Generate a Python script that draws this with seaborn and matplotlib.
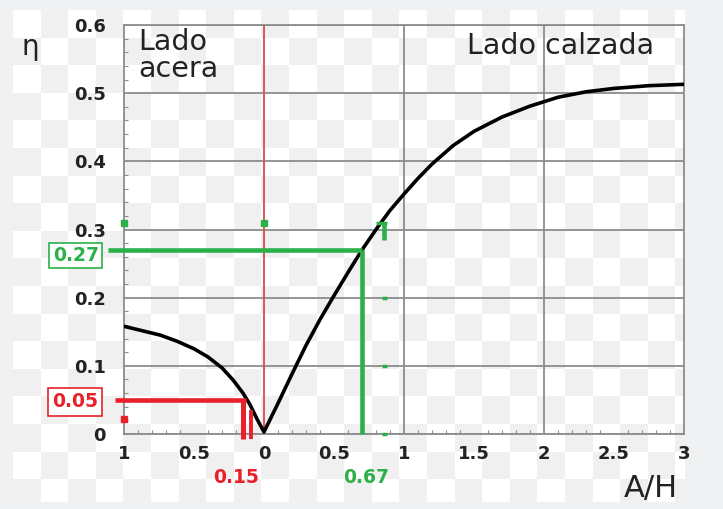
import numpy as np
import pandas as pd
import matplotlib
matplotlib.use('Agg')
import matplotlib.pyplot as plt
import seaborn as sns

# curve (A/H < 0 is the "acera" side)
ah_vals = [-1.0, -0.88, -0.74, -0.62, -0.5, -0.4, -0.3, -0.22, -0.15, -0.1,
           -0.05, 0.0,
           0.1, 0.2, 0.3, 0.4, 0.5, 0.6, 0.7, 0.8, 0.9, 1.0, 1.1, 1.2, 1.35,
           1.5, 1.7, 1.9, 2.1, 2.3, 2.5, 2.75, 3.0]
eta_vals = [0.158, 0.152, 0.145, 0.136, 0.125, 0.113, 0.097, 0.079, 0.06, 0.043,
            0.022, 0.003,
            0.045, 0.088, 0.13, 0.168, 0.203, 0.237, 0.27, 0.3, 0.328, 0.352, 0.375,
            0.396, 0.423, 0.444, 0.465, 0.481, 0.494, 0.502, 0.507, 0.511, 0.513]

x_ticks = [-1, -0.5, 0, 0.5, 1, 1.5, 2, 2.5, 3]
x_tick_labels = ['1', '0.5', '0', '0.5', '1', '1.5', '2', '2.5', '3']
y_ticks = [0, 0.1, 0.2, 0.3, 0.4, 0.5, 0.6]
y_tick_labels = ['0', '0.1', '0.2', '0.3', '0.4', '0.5', '0.6']

# read-off annotations
red_x, red_eta = -0.15, 0.05
red_x2, red_eta2 = -0.09, 0.035
green_x, green_eta = 0.7, 0.27
red_label_x, red_label_eta = '0.15', '0.05'
green_label_x, green_label_eta = '0.67', '0.27'
green_mark_x, green_mark_eta = 0.86, 0.31

df = pd.DataFrame({'A/H': ah_vals, 'eta': eta_vals})

sns.set_style('white')
plt.rcParams['font.family'] = ['DejaVu Sans']

RED = '#e8202a'
GREEN = '#2bb04a'
GRID = '#8c8c8c'

fig = plt.figure(figsize=(7.23, 5.09), dpi=100)
fig.patch.set_facecolor('#f0f1f3')

# checkered background
bg = fig.add_axes([13 / 723, 1 - 502 / 509, 672 / 723, 492 / 509], zorder=0)
sq = 27.6
nr, nc = 19, 25
checker = (np.add.outer(np.arange(nr), np.arange(nc)) % 2).astype(float)
bg.imshow(checker, cmap=matplotlib.colors.ListedColormap(['#ffffff', '#f0f0f0']),
          extent=[0, nc * sq, nr * sq, 0], interpolation='nearest', aspect='auto')
bg.set_xlim(0, 672)
bg.set_ylim(492, 0)
bg.axis('off')

ax = fig.add_axes([124 / 723, 1 - 434 / 509, 560 / 723, 409 / 509], zorder=1)
ax.patch.set_alpha(0)

sns.lineplot(data=df, x='A/H', y='eta', color='black', linewidth=2.6,
             sort=True, ax=ax, zorder=5)

ax.set_xlim(-1, 3)
ax.set_ylim(0, 0.6)
ax.set_xlabel('')
ax.set_ylabel('')

ax.set_xticks(x_ticks)
ax.set_xticklabels(x_tick_labels)
ax.set_yticks(y_ticks)
ax.set_yticklabels(y_tick_labels)
ax.set_xticks(np.arange(-1, 3.01, 0.1), minor=True)
ax.set_yticks(np.arange(0, 0.601, 0.02), minor=True)

ax.tick_params(axis='x', which='major', direction='inout', length=12, width=1.3,
               color=GRID, labelsize=13, labelcolor='#222222', pad=2)
ax.tick_params(axis='y', which='major', direction='out', length=10, width=1.3,
               color=GRID, labelsize=13, labelcolor='#222222', pad=3)
ax.tick_params(which='minor', direction='in', length=3, width=0.8, color=GRID)
ax.tick_params(axis='y', which='minor', left=True)
ax.tick_params(axis='x', which='minor', bottom=True)
for lab in ax.get_xticklabels() + ax.get_yticklabels():
    lab.set_fontweight('bold')

ax.yaxis.grid(True, color=GRID, linewidth=1.3)
for gx in [1, 2]:
    ax.axvline(gx, color=GRID, linewidth=1.3, zorder=1)
ax.axvline(0, color='#e05555', linewidth=1.4, zorder=2)
for side in ['left', 'bottom', 'right', 'top']:
    ax.spines[side].set_color(GRID)
    ax.spines[side].set_linewidth(1.3)
    ax.spines[side].set_visible(True)

# red read-off (acera side)
ax.plot([-1.065, red_x + 0.02], [red_eta, red_eta], color=RED, linewidth=3.3,
        clip_on=False, zorder=6, solid_capstyle='butt')
ax.plot([red_x, red_x], [red_eta, -0.008], color=RED, linewidth=3.6,
        clip_on=False, zorder=6, solid_capstyle='butt')
ax.plot([red_x2, red_x2], [red_eta2, -0.008], color=RED, linewidth=2.8,
        clip_on=False, zorder=6, solid_capstyle='butt')
ax.plot([-1.0], [0.022], marker='s', markersize=4, color=RED,
        clip_on=False, zorder=6)

# green read-off (calzada side)
ax.plot([-1.115, green_x], [green_eta, green_eta], color=GREEN, linewidth=3.3,
        clip_on=False, zorder=6, solid_capstyle='butt')
ax.plot([green_x, green_x], [green_eta, 0], color=GREEN, linewidth=3.3,
        clip_on=False, zorder=6, solid_capstyle='butt')
ax.plot([green_mark_x, green_mark_x], [green_mark_eta, 0.285], color=GREEN,
        linewidth=3.3, zorder=6, solid_capstyle='butt')
ax.plot([green_mark_x - 0.06, green_mark_x + 0.02], [green_mark_eta, green_mark_eta],
        color=GREEN, linewidth=2.5, zorder=6, solid_capstyle='butt')
for gy in [0.2, 0.1, 0.0]:
    ax.plot([green_mark_x - 0.02, green_mark_x + 0.02], [gy, gy], color=GREEN,
            linewidth=2.5, zorder=6, clip_on=False, solid_capstyle='butt')
ax.plot([-1.0, 0.0], [green_mark_eta, green_mark_eta], linestyle='none', marker='s',
        markersize=4, color=GREEN, clip_on=False, zorder=6)

# boxed value labels
ax.text(-1.35, 0.047, red_label_eta, color=RED, fontsize=13.5, fontweight='bold',
        ha='center', va='center', clip_on=False, zorder=7,
        bbox=dict(boxstyle='square,pad=0.22', fc='white', ec=RED, lw=1.2))
ax.text(-1.345, 0.262, green_label_eta, color=GREEN, fontsize=13.5, fontweight='bold',
        ha='center', va='center', clip_on=False, zorder=7,
        bbox=dict(boxstyle='square,pad=0.18', fc='white', ec=GREEN, lw=1.2))
ax.text(-0.2, -0.064, red_label_x, color=RED, fontsize=13.5, fontweight='bold',
        ha='center', va='center', clip_on=False)
ax.text(0.73, -0.064, green_label_x, color=GREEN, fontsize=13.5, fontweight='bold',
        ha='center', va='center', clip_on=False)

# side labels
ax.text(-0.9, 0.595, 'Lado\nacera', fontsize=20.5, color='#222222',
        ha='left', va='top', linespacing=0.92)
ax.text(1.45, 0.59, 'Lado calzada', fontsize=20.5, color='#222222',
        ha='left', va='top')

fig.text(30 / 723, 1 - 47 / 509, 'η', fontsize=20, color='#222222',
         ha='center', va='center')
fig.text(651 / 723, 1 - 489 / 509, 'A/H', fontsize=22, color='#222222',
         ha='center', va='center')

fig.savefig('out.png', dpi=100, facecolor=fig.get_facecolor())
